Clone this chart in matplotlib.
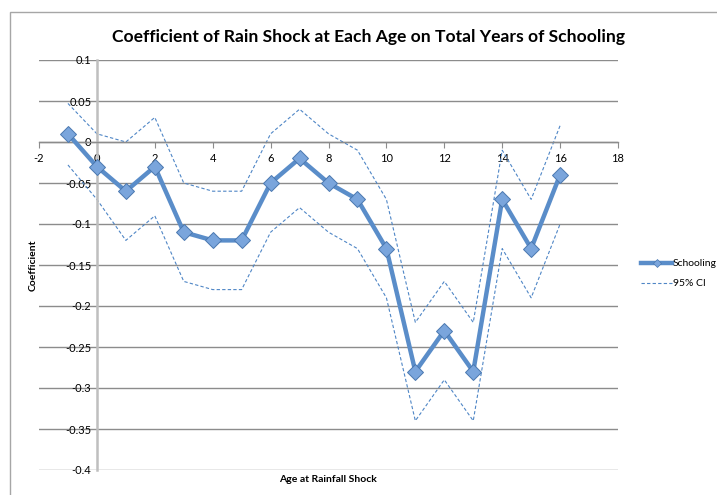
import matplotlib

matplotlib.use("Agg")
import matplotlib.pyplot as plt
from matplotlib.patches import Rectangle

plt.rcParams["font.family"] = ["Lato", "DejaVu Sans"]

# values
ages = [-1, 0, 1, 2, 3, 4, 5, 6, 7, 8, 9, 10, 11, 12, 13, 14, 15, 16]
schooling = [0.01, -0.03, -0.06, -0.03, -0.11, -0.12, -0.12, -0.05, -0.02,
             -0.05, -0.07, -0.13, -0.28, -0.23, -0.28, -0.07, -0.13, -0.04]
ci_upper = [0.047, 0.01, 0.0, 0.03, -0.05, -0.06, -0.06, 0.01, 0.04,
            0.01, -0.01, -0.07, -0.22, -0.17, -0.22, -0.01, -0.07, 0.02]
ci_lower = [-0.028, -0.07, -0.12, -0.09, -0.17, -0.18, -0.18, -0.11, -0.08,
            -0.11, -0.13, -0.19, -0.34, -0.29, -0.34, -0.13, -0.19, -0.10]
x_ticks = [-2, 0, 2, 4, 6, 8, 10, 12, 14, 16, 18]
y_ticks = [0.1, 0.05, 0, -0.05, -0.1, -0.15, -0.2, -0.25, -0.3, -0.35, -0.4]

W, H = 717, 495
fig = plt.figure(figsize=(W / 100, H / 100), dpi=100)
fig.patches.append(Rectangle((10 / W, -0.1), 2.0, (H - 12) / H + 0.1,
                             transform=fig.transFigure, fill=False,
                             edgecolor="#a6a6a6", linewidth=1.0))

ax = fig.add_axes([39 / W, 25 / H, (618 - 39) / W, (470 - 60) / H])
ax.set_xlim(-2, 18)
ax.set_ylim(-0.4, 0.1)

for y in y_ticks:
    ax.axhline(y, color="#8c8c8c", linewidth=1.0, zorder=0)

line_col = "#5a8dc9"
ax.plot(ages, ci_upper, color="#4f86c6", linewidth=0.8, linestyle=(0, (3, 2)), zorder=2)
ax.plot(ages, ci_lower, color="#4f86c6", linewidth=0.8, linestyle=(0, (3, 2)), zorder=2)
ax.plot(ages, schooling, color=line_col, linewidth=3.2, marker="D", markersize=8,
        markerfacecolor="#7aa5dc", markeredgecolor="#4a78b0", markeredgewidth=0.7,
        zorder=3)

for side in ("top", "right"):
    ax.spines[side].set_visible(False)
ax.spines["left"].set_position(("data", 0))
ax.spines["left"].set_color("#bfbfbf")
ax.spines["left"].set_linewidth(1.8)
ax.spines["bottom"].set_position(("data", 0))
ax.spines["bottom"].set_color("#8c8c8c")
ax.spines["bottom"].set_linewidth(1.0)

ax.set_xticks(x_ticks)
ax.set_xticklabels([str(v) for v in x_ticks])
ax.set_yticks(y_ticks)
ax.set_yticklabels(["0.1", "0.05", "0", "-0.05", "-0.1", "-0.15", "-0.2",
                    "-0.25", "-0.3", "-0.35", "-0.4"])
ax.tick_params(axis="x", direction="out", length=4, color="#8c8c8c",
               labelsize=8, pad=4)
ax.tick_params(axis="y", length=0, labelsize=8, pad=4)
ax.set_facecolor("none")

fig.text(368 / W, 1 - 37 / H, "Coefficient of Rain Shock at Each Age on Total Years of Schooling",
         ha="center", va="center", fontsize=12.6, fontweight="bold")
fig.text(328 / W, 1 - 480 / H, "Age at Rainfall Shock", ha="center", va="center",
         fontsize=7.5, fontweight="bold")
fig.text(33 / W, 1 - 265 / H, "Coefficient", ha="center", va="center",
         fontsize=7.5, fontweight="bold", rotation=90)

# legend drawn in figure pixels
fig.add_artist(plt.Line2D([641 / W, 672 / W], [1 - 263 / H] * 2, color=line_col,
                          linewidth=3.2, transform=fig.transFigure))
fig.add_artist(plt.Line2D([656.5 / W], [1 - 263 / H], marker="D", markersize=4,
                          markerfacecolor="#7aa5dc", markeredgecolor="#4a78b0",
                          markeredgewidth=0.5, transform=fig.transFigure))
fig.add_artist(plt.Line2D([641 / W, 672 / W], [1 - 283 / H] * 2, color="#4f86c6",
                          linewidth=0.8, linestyle=(0, (3, 2)),
                          transform=fig.transFigure))
fig.text(673 / W, 1 - 263 / H, "Schooling", ha="left", va="center", fontsize=7.5)
fig.text(673 / W, 1 - 283 / H, "95% CI", ha="left", va="center", fontsize=7.5)

fig.savefig("out.png", dpi=100)
